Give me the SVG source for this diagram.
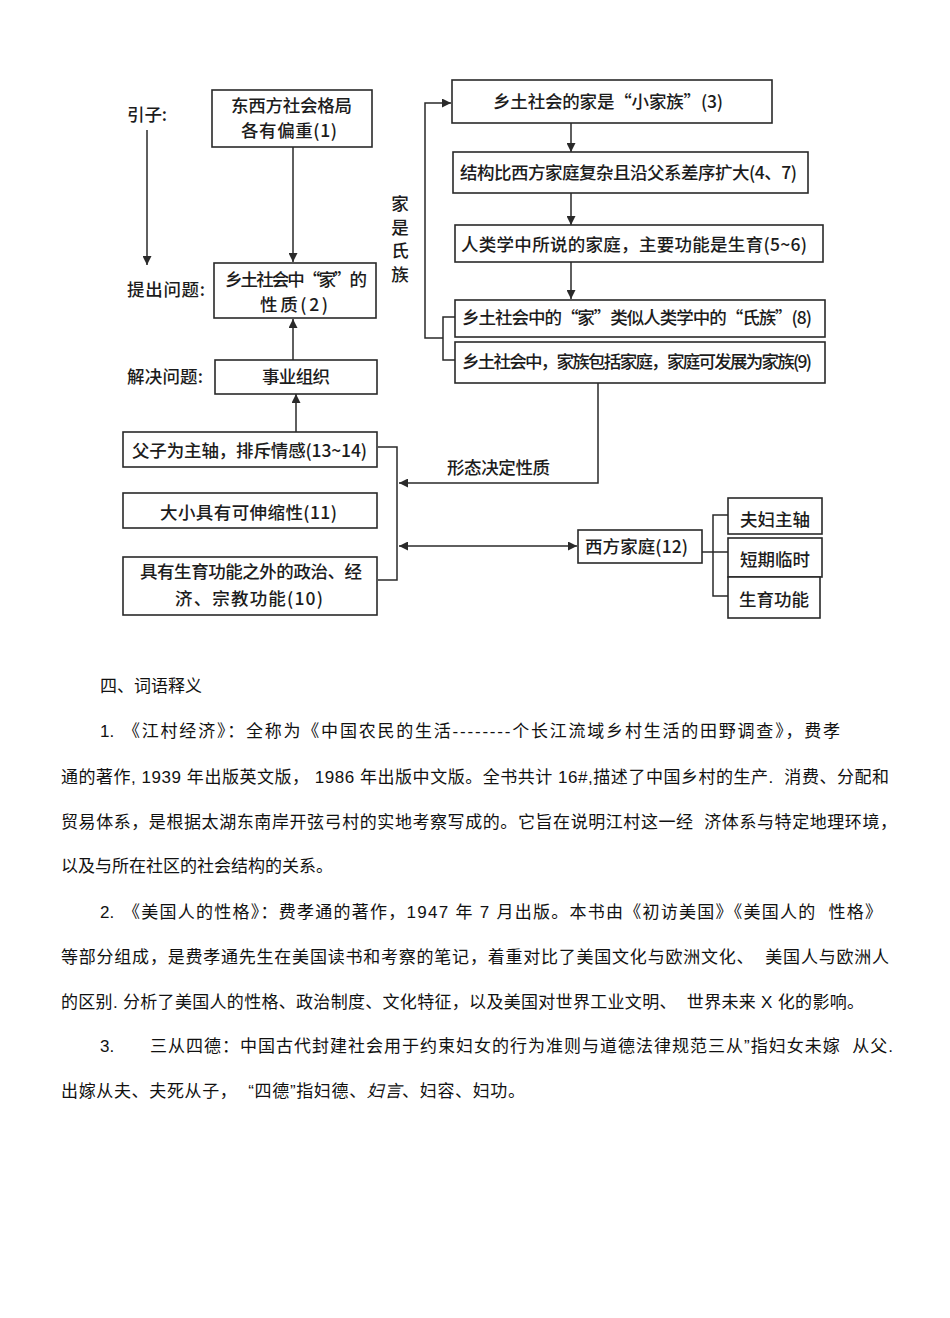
<svg xmlns="http://www.w3.org/2000/svg" width="950" height="1318" viewBox="0 0 950 1318">
<style>
.bg{fill:#ffffff}
.box{fill:#ffffff;stroke:#2a2a2a;stroke-width:1.6}
.ln{fill:none;stroke:#2a2a2a;stroke-width:1.5}
.dt{font-family:"Noto Sans CJK SC","Noto Sans",sans-serif;font-size:17.5px;font-weight:500;fill:#1c1c1c}
.vt{font-family:"Noto Sans CJK SC","Noto Sans",sans-serif;font-size:17.5px;font-weight:500;fill:#1c1c1c;writing-mode:vertical-rl;letter-spacing:6px}
.bt{font-family:"Liberation Sans","Noto Sans CJK SC",sans-serif;font-size:17px;fill:#111111}
</style>
<defs>
<marker id="ah" viewBox="0 0 10 10" refX="10" refY="5" markerWidth="10" markerHeight="9" markerUnits="userSpaceOnUse" orient="auto-start-reverse">
<path d="M0,0 L10,5 L0,10 z" fill="#2a2a2a"/>
</marker>
</defs>
<rect class="bg" x="0" y="0" width="950" height="1318"/>

<g id="labels">
<text class="dt" x="127" y="121" textLength="40">引子:</text>
<text class="dt" x="127" y="296" textLength="78">提出问题:</text>
<text class="dt" x="127" y="383" textLength="76">解决问题:</text>
<text class="vt" x="400" y="195">家是氏族</text>
<text class="dt" x="447" y="474" textLength="103">形态决定性质</text>
</g>

<g id="connectors">
<line class="ln" x1="147" y1="130" x2="147" y2="265" marker-end="url(#ah)"/>
<line class="ln" x1="293" y1="147" x2="293" y2="262" marker-end="url(#ah)"/>
<line class="ln" x1="293" y1="360" x2="293" y2="319" marker-end="url(#ah)"/>
<line class="ln" x1="296" y1="432" x2="296" y2="394" marker-end="url(#ah)"/>
<path class="ln" d="M455,317 H443 V360 H455"/>
<path class="ln" d="M443,338 H425 V103 H451" marker-end="url(#ah)"/>
<line class="ln" x1="571" y1="123" x2="571" y2="152" marker-end="url(#ah)"/>
<line class="ln" x1="571" y1="193" x2="571" y2="225" marker-end="url(#ah)"/>
<line class="ln" x1="571" y1="262" x2="571" y2="299" marker-end="url(#ah)"/>
<path class="ln" d="M598,383 V483 H399" marker-end="url(#ah)"/>
<path class="ln" d="M378,447 H397 V580 H378"/>
<line class="ln" x1="399" y1="546" x2="577" y2="546" marker-start="url(#ah)" marker-end="url(#ah)"/>
<path class="ln" d="M702,552 H728"/>
<path class="ln" d="M728,515 H713 V596 H728"/>
</g>

<g id="n1"><rect class="box" x="212" y="90" width="160" height="57"/>
<text class="dt" x="231" y="112" textLength="121">东西方社会格局</text>
<text class="dt" x="241" y="137" textLength="96">各有偏重(1)</text></g>
<g id="n2"><rect class="box" x="214" y="263" width="162" height="55"/>
<text class="dt" x="225" y="286" textLength="142">乡土社会中“家”的</text>
<text class="dt" x="260" y="311" textLength="68">性质(2)</text></g>
<g id="n_shiye"><rect class="box" x="215" y="360" width="162" height="34"/>
<text class="dt" x="262" y="383" textLength="68">事业组织</text></g>

<g id="n3"><rect class="box" x="452" y="80" width="320" height="43"/>
<text class="dt" x="493" y="108" textLength="230">乡土社会的家是“小家族”(3)</text></g>
<g id="n4"><rect class="box" x="453" y="152" width="355" height="41"/>
<text class="dt" x="460" y="179" textLength="337">结构比西方家庭复杂且沿父系差序扩大(4、7)</text></g>
<g id="n5"><rect class="box" x="455" y="225" width="368" height="37"/>
<text class="dt" x="461" y="251" textLength="346">人类学中所说的家庭，主要功能是生育(5~6)</text></g>
<g id="n8"><rect class="box" x="455" y="300" width="370" height="37"/>
<text class="dt" x="462" y="324" textLength="350">乡土社会中的“家”类似人类学中的“氏族”(8)</text></g>
<g id="n9"><rect class="box" x="455" y="342" width="370" height="41"/>
<text class="dt" x="462" y="368" textLength="350">乡土社会中，家族包括家庭，家庭可发展为家族(9)</text></g>

<g id="n13"><rect class="box" x="123" y="432" width="254" height="35"/>
<text class="dt" x="132" y="457" textLength="235">父子为主轴，排斥情感(13~14)</text></g>
<g id="n11"><rect class="box" x="123" y="493" width="254" height="35"/>
<text class="dt" x="160" y="519" textLength="177">大小具有可伸缩性(11)</text></g>
<g id="n10"><rect class="box" x="123" y="557" width="254" height="58"/>
<text class="dt" x="140" y="578" textLength="222">具有生育功能之外的政治、经</text>
<text class="dt" x="175" y="605" textLength="148">济、宗教功能(10)</text></g>

<g id="n12"><rect class="box" x="578" y="530" width="124" height="33"/>
<text class="dt" x="585" y="553" textLength="103">西方家庭(12)</text></g>
<g id="n_fufu"><rect class="box" x="728" y="498" width="94" height="36"/>
<text class="dt" x="740" y="526" textLength="70">夫妇主轴</text></g>
<g id="n_duanqi"><rect class="box" x="728" y="538" width="94" height="39"/>
<text class="dt" x="740" y="566" textLength="70">短期临时</text></g>
<g id="n_shengyu"><rect class="box" x="728" y="577" width="92" height="41"/>
<text class="dt" x="739" y="606" textLength="70">生育功能</text></g>

<g id="body">
<text class="bt" x="100" y="692">四、词语释义</text>
<text class="bt" x="100" y="737">1.</text>
<text class="bt" x="123" y="737" textLength="717" lengthAdjust="spacing">《江村经济》：全称为《中国农民的生活--------个长江流域乡村生活的田野调查》，费孝</text>
<text class="bt" x="61" y="783" textLength="828" lengthAdjust="spacing" xml:space="preserve">通的著作, 1939 年出版英文版， 1986 年出版中文版。全书共计 16#,描述了中国乡村的生产.  消费、分配和</text>
<text class="bt" x="61" y="828" textLength="836" lengthAdjust="spacing" xml:space="preserve">贸易体系，是根据太湖东南岸开弦弓村的实地考察写成的。它旨在说明江村这一经  济体系与特定地理环境，</text>
<text class="bt" x="61" y="872">以及与所在社区的社会结构的关系。</text>
<text class="bt" x="100" y="918">2.</text>
<text class="bt" x="123" y="918" textLength="759" lengthAdjust="spacing" xml:space="preserve">《美国人的性格》：费孝通的著作，1947 年 7 月出版。本书由《初访美国》《美国人的  性格》</text>
<text class="bt" x="61" y="963" textLength="828" lengthAdjust="spacing" xml:space="preserve">等部分组成，是费孝通先生在美国读书和考察的笔记，着重对比了美国文化与欧洲文化、  美国人与欧洲人</text>
<text class="bt" x="61" y="1008" textLength="803" lengthAdjust="spacing" xml:space="preserve">的区别. 分析了美国人的性格、政治制度、文化特征，以及美国对世界工业文明、  世界未来 X 化的影响。</text>
<text class="bt" x="100" y="1052">3.</text>
<text class="bt" x="150" y="1052" textLength="743" lengthAdjust="spacing" xml:space="preserve">三从四德：中国古代封建社会用于约束妇女的行为准则与道德法律规范三从”指妇女未嫁  从父.</text>
<text class="bt" x="61" y="1097" textLength="464" lengthAdjust="spacing" xml:space="preserve">出嫁从夫、夫死从子，  “四德”指妇德、<tspan font-style="italic">妇言</tspan>、妇容、妇功。</text>
</g>
</svg>
